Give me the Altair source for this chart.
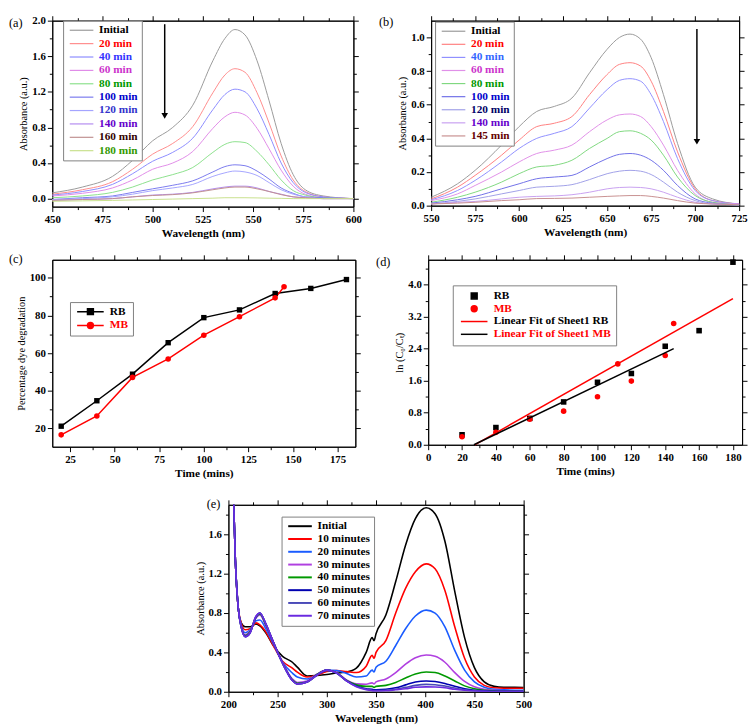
import altair as alt
import pandas as pd

FONT = "Liberation Serif"

# ---------------- panel (a) ----------------
A_WL = [450, 465, 480, 490, 500, 510, 520, 530, 536, 541, 546, 552, 558, 564, 570, 576, 585, 600]
A_NAMES = ["Initial", "20 min", "40 min", "60 min", "80 min", "100 min", "120 min", "140 min", "160 min", "180 min"]
A_INITIAL = [0.065, 0.13, 0.25, 0.43, 0.65, 0.80, 1.05, 1.55, 1.80, 1.90, 1.84, 1.55, 1.10, 0.62, 0.27, 0.10, 0.03, 0.0]
A_20 = [0.05, 0.10, 0.19, 0.33, 0.50, 0.62, 0.81, 1.19, 1.39, 1.46, 1.42, 1.19, 0.85, 0.48, 0.21, 0.08, 0.02, 0.0]
A_40 = [0.04, 0.08, 0.16, 0.28, 0.42, 0.52, 0.68, 1.00, 1.17, 1.23, 1.20, 1.01, 0.72, 0.40, 0.18, 0.07, 0.02, 0.0]
A_60 = [0.03, 0.06, 0.12, 0.21, 0.33, 0.40, 0.53, 0.79, 0.92, 0.97, 0.94, 0.79, 0.56, 0.32, 0.14, 0.05, 0.01, 0.0]
A_80 = [0.01, 0.03, 0.07, 0.13, 0.21, 0.27, 0.35, 0.52, 0.61, 0.64, 0.63, 0.53, 0.38, 0.21, 0.09, 0.04, 0.01, 0.0]
A_100 = [-0.01, 0.01, 0.03, 0.07, 0.11, 0.15, 0.20, 0.30, 0.36, 0.38, 0.37, 0.31, 0.22, 0.12, 0.06, 0.02, 0.01, 0.0]
A_120 = [-0.01, 0.0, 0.02, 0.05, 0.09, 0.12, 0.16, 0.25, 0.29, 0.31, 0.30, 0.26, 0.18, 0.10, 0.05, 0.02, 0.0, 0.0]
A_140 = [-0.02, -0.01, 0.0, 0.02, 0.04, 0.05, 0.07, 0.11, 0.13, 0.14, 0.14, 0.12, 0.08, 0.05, 0.02, 0.01, 0.0, 0.0]
A_160 = [-0.02, -0.01, 0.0, 0.02, 0.035, 0.045, 0.065, 0.10, 0.12, 0.13, 0.13, 0.11, 0.08, 0.045, 0.02, 0.01, 0.0, 0.0]
A_180 = [-0.03, -0.025, -0.02, -0.015, -0.01, -0.005, 0.0, 0.005, 0.01, 0.01, 0.01, 0.008, 0.005, 0.003, 0.0, 0.0, 0.0, 0.0]
A_SERIES = [A_INITIAL, A_20, A_40, A_60, A_80, A_100, A_120, A_140, A_160, A_180]
A_LINE_COLORS = ["#9a9a9a", "#ff8c8c", "#8c8cff", "#e08ce8", "#8ce08c", "#7a7aee", "#a4a4ff", "#b48cf0", "#c09090", "#c8e08c"]
A_TEXT_COLORS = ["#000000", "#ff0000", "#3333ff", "#cc33cc", "#009900", "#0000cc", "#3333cc", "#6600cc", "#330000", "#339900"]
A_ARROW_X = [506]
A_ARROW_TOP = [1.96]
A_ARROW_HEAD = [0.93]

# ---------------- panel (b) ----------------
B_WL = [550, 565, 575, 590, 600, 610, 620, 630, 640, 650, 657, 663, 669, 675, 682, 690, 700, 710, 725]
B_NAMES = ["Initial", "20 min", "40 min", "60 min", "80 min", "100 min", "120 min", "140 min", "145 min"]
B_INITIAL = [0.05, 0.13, 0.21, 0.36, 0.47, 0.56, 0.59, 0.64, 0.79, 0.93, 1.00, 1.02, 0.99, 0.88, 0.66, 0.37, 0.11, 0.04, 0.01]
B_20 = [0.04, 0.11, 0.18, 0.30, 0.39, 0.47, 0.49, 0.53, 0.66, 0.78, 0.84, 0.85, 0.83, 0.74, 0.56, 0.32, 0.10, 0.03, 0.01]
B_40 = [0.035, 0.09, 0.15, 0.26, 0.34, 0.40, 0.43, 0.47, 0.58, 0.69, 0.745, 0.755, 0.74, 0.66, 0.50, 0.28, 0.09, 0.03, 0.01]
B_60 = [0.03, 0.07, 0.12, 0.20, 0.26, 0.31, 0.33, 0.36, 0.44, 0.51, 0.54, 0.545, 0.53, 0.47, 0.36, 0.21, 0.07, 0.02, 0.01]
B_80 = [0.02, 0.05, 0.08, 0.14, 0.19, 0.23, 0.24, 0.27, 0.34, 0.40, 0.44, 0.445, 0.43, 0.39, 0.30, 0.17, 0.06, 0.02, 0.005]
B_100 = [0.015, 0.035, 0.055, 0.10, 0.13, 0.16, 0.17, 0.18, 0.23, 0.28, 0.305, 0.31, 0.30, 0.27, 0.21, 0.12, 0.04, 0.015, 0.005]
B_120 = [0.01, 0.025, 0.04, 0.07, 0.09, 0.11, 0.115, 0.125, 0.155, 0.19, 0.205, 0.21, 0.205, 0.185, 0.14, 0.08, 0.03, 0.01, 0.005]
B_140 = [0.01, 0.02, 0.025, 0.04, 0.05, 0.055, 0.058, 0.065, 0.08, 0.10, 0.108, 0.11, 0.108, 0.10, 0.08, 0.05, 0.02, 0.01, 0.005]
B_145 = [0.01, 0.015, 0.02, 0.03, 0.035, 0.042, 0.043, 0.045, 0.05, 0.055, 0.058, 0.06, 0.06, 0.055, 0.045, 0.03, 0.015, 0.01, 0.005]
B_SERIES = [B_INITIAL, B_20, B_40, B_60, B_80, B_100, B_120, B_140, B_145]
B_LINE_COLORS = ["#9a9a9a", "#ff8080", "#9090ff", "#e090e8", "#80d880", "#7070e8", "#a0a0e8", "#c8a0f0", "#c89090"]
B_TEXT_COLORS = ["#000000", "#ff0000", "#3366ff", "#cc33cc", "#009900", "#0000cc", "#000066", "#6600cc", "#660000"]
B_ARROW_X = [701]
B_ARROW_TOP = [1.05]
B_ARROW_HEAD = [0.38]

# ---------------- panel (c) ----------------
C_RB_T = [20, 40, 60, 80, 100, 120, 140, 160, 180]
C_RB_PCT = [21.2, 34.7, 48.8, 65.5, 78.8, 82.9, 91.6, 94.3, 99.0]
C_MB_T = [20, 40, 60, 80, 100, 120, 140, 145]
C_MB_PCT = [16.6, 26.6, 47.1, 56.9, 69.5, 79.3, 89.3, 95.2]

# ---------------- panel (d) ----------------
D_RB_T = [20, 40, 60, 80, 100, 120, 140, 160, 180]
D_RB_LN = [0.25, 0.43, 0.66, 1.07, 1.56, 1.78, 2.46, 2.85, 4.56]
D_MB_T = [20, 40, 60, 80, 100, 112, 120, 140, 145]
D_MB_LN = [0.20, 0.31, 0.64, 0.84, 1.20, 2.02, 1.59, 2.23, 3.03]
D_FIT_NAMES = ["Linear Fit of Sheet1 RB", "Linear Fit of Sheet1 MB"]
D_FIT_T = [[27.5, 180], [27, 145]]
D_FIT_LN = [[0.0, 3.65], [0.0, 2.40]]
D_NAMES = ["RB", "MB", "Linear Fit of Sheet1 RB", "Linear Fit of Sheet1 MB"]
D_COLORS = ["#000000", "#ff0000", "#ff0000", "#000000"]
D_TEXT_COLORS = ["#000000", "#ff0000", "#000000", "#ff0000"]

# ---------------- panel (e) ----------------
E_WL = [204, 207, 210, 213, 217, 222, 228, 232, 238, 245, 255, 265, 270, 280, 290, 300, 310, 320, 330, 340,
        346, 348, 350, 360, 370, 380, 390, 401, 410, 420, 430, 440, 450, 460, 470, 480, 500]
E_NAMES = ["Initial", "10 minutes", "20 minutes", "30 minutes", "40 minutes", "50 minutes", "60 minutes", "70 minutes"]
E_INITIAL = [2.4, 1.35, 0.85, 0.70, 0.66, 0.66, 0.69, 0.67, 0.60, 0.48, 0.36, 0.30, 0.25, 0.16, 0.165, 0.175, 0.19, 0.20, 0.24, 0.40,
             0.55, 0.52, 0.59, 0.78, 1.12, 1.49, 1.76, 1.87, 1.81, 1.53, 1.02, 0.55, 0.245, 0.10, 0.055, 0.045, 0.044]
E_10 = [2.4, 1.35, 0.85, 0.70, 0.63, 0.64, 0.70, 0.68, 0.61, 0.48, 0.31, 0.24, 0.20, 0.15, 0.17, 0.205, 0.215, 0.205, 0.195, 0.26,
        0.37, 0.34, 0.40, 0.52, 0.80, 1.05, 1.22, 1.30, 1.25, 1.03, 0.66, 0.34, 0.15, 0.065, 0.04, 0.035, 0.035]
E_20 = [2.4, 1.35, 0.85, 0.68, 0.60, 0.63, 0.72, 0.73, 0.64, 0.50, 0.30, 0.19, 0.15, 0.13, 0.17, 0.22, 0.215, 0.185, 0.15, 0.16,
        0.22, 0.20, 0.25, 0.31, 0.47, 0.64, 0.77, 0.83, 0.80, 0.66, 0.42, 0.22, 0.10, 0.045, 0.025, 0.02, 0.015]
E_30 = [2.4, 1.35, 0.85, 0.67, 0.58, 0.62, 0.75, 0.78, 0.67, 0.52, 0.30, 0.13, 0.095, 0.11, 0.18, 0.22, 0.195, 0.12, 0.08, 0.077,
        0.09, 0.08, 0.10, 0.13, 0.195, 0.28, 0.345, 0.373, 0.36, 0.30, 0.195, 0.105, 0.05, 0.025, 0.015, 0.01, 0.01]
E_40 = [2.4, 1.35, 0.85, 0.66, 0.57, 0.61, 0.76, 0.79, 0.68, 0.52, 0.29, 0.12, 0.085, 0.10, 0.175, 0.22, 0.19, 0.115, 0.07, 0.055,
        0.055, 0.045, 0.055, 0.065, 0.095, 0.14, 0.18, 0.20, 0.195, 0.16, 0.11, 0.06, 0.03, 0.015, 0.01, 0.005, 0.005]
E_50 = [2.4, 1.35, 0.85, 0.66, 0.56, 0.60, 0.76, 0.80, 0.69, 0.52, 0.29, 0.115, 0.08, 0.10, 0.17, 0.22, 0.19, 0.11, 0.06, 0.03,
        0.025, 0.02, 0.02, 0.025, 0.04, 0.07, 0.10, 0.11, 0.105, 0.085, 0.055, 0.03, 0.015, 0.01, 0.005, 0.005, 0.005]
E_60 = [2.4, 1.35, 0.85, 0.66, 0.56, 0.60, 0.76, 0.80, 0.69, 0.52, 0.29, 0.115, 0.08, 0.10, 0.17, 0.22, 0.19, 0.11, 0.055, 0.025,
        0.015, 0.012, 0.012, 0.015, 0.025, 0.045, 0.065, 0.075, 0.072, 0.058, 0.038, 0.02, 0.01, 0.005, 0.003, 0.003, 0.003]
E_70 = [2.4, 1.35, 0.85, 0.66, 0.56, 0.60, 0.77, 0.80, 0.69, 0.52, 0.29, 0.115, 0.08, 0.10, 0.17, 0.22, 0.19, 0.11, 0.05, 0.02,
        0.01, 0.008, 0.008, 0.01, 0.02, 0.03, 0.045, 0.05, 0.048, 0.04, 0.025, 0.015, 0.008, 0.004, 0.002, 0.002, 0.002]
E_SERIES = [E_INITIAL, E_10, E_20, E_30, E_40, E_50, E_60, E_70]
E_LINE_COLORS = ["#000000", "#ff0000", "#1a5cff", "#b040e0", "#009900", "#0000b0", "#4a4ab8", "#6a2ae0"]


# ---------------- helpers ----------------
def long_df(xs, names, series):
    rows = []
    for name, ys in zip(names, series):
        assert len(ys) == len(xs), name
        for x, y in zip(xs, ys):
            rows.append({"x": x, "y": y, "s": name})
    return pd.DataFrame(rows)


def major_test(step):
    return f"abs(datum.value / {step} - round(datum.value / {step})) < 0.001"


def make_axis(orient, values, step, fmt, title=None, bold_title=True, show=True):
    test = major_test(step)
    kw = dict(orient=orient, values=values, grid=False, domainColor="black", domainWidth=1,
              tickColor="black", tickWidth=1,
              tickSize={"condition": {"test": test, "value": 5}, "value": 3})
    if show:
        kw.update(labelExpr=f"{test} ? format(datum.value, '{fmt}') : ''",
                  labelFont=FONT, labelFontSize=11, labelFontWeight="bold", labelColor="black",
                  labelPadding=2, labelOverlap=False, labelFlush=False,
                  title=title, titleFont=FONT, titleFontSize=11.5 if bold_title else 10.5,
                  titleFontWeight="bold" if bold_title else "normal", titleColor="black", titlePadding=3)
    else:
        kw.update(labels=False, title=None)
    return alt.Axis(**kw)


def color_expr(names, colors):
    n = "[" + ",".join(f"'{v}'" for v in names) + "]"
    c = "[" + ",".join(f"'{v}'" for v in colors) + "]"
    return f"{c}[indexof({n}, datum.label)]"


def panel(content, frame_df, xdom, ydom, xvals, xstep, xfmt, xtitle, yvals, ystep, yfmt, ytitle, ybold,
          w, h, label, lx, ly):
    xs = alt.Scale(domain=xdom, nice=False, zero=False)
    ys = alt.Scale(domain=ydom, nice=False, zero=False)
    X = alt.X("x:Q", scale=xs, axis=make_axis("bottom", xvals, xstep, xfmt, xtitle, True))
    Y = alt.Y("y:Q", scale=ys, axis=make_axis("left", yvals, ystep, yfmt, ytitle, ybold))
    layers = [f(X, Y) for f in content]
    lab = alt.Chart(pd.DataFrame({"t": [label]})).mark_text(
        font=FONT, fontSize=12.5, align="left", baseline="top", color="black"
    ).encode(text="t:N", x=alt.value(lx), y=alt.value(ly))
    layers.append(lab)
    inner = alt.layer(*layers)
    frame = alt.Chart(frame_df).mark_point(opacity=0, clip=True, size=1).encode(
        x=alt.X("x:Q", scale=xs, axis=make_axis("top", xvals, xstep, xfmt, show=False)),
        y=alt.Y("y:Q", scale=ys, axis=make_axis("right", yvals, ystep, yfmt, show=False)),
    )
    return alt.layer(inner, frame).resolve_axis(x="independent", y="independent").properties(width=w, height=h)


LINE_SYM = "M-4,0H4"


def line_legend(names, text_colors, lx, ly, row_pad, stroke_w=1.2):
    return alt.Legend(title=None, orient="none", legendX=lx, legendY=ly, direction="vertical",
                      symbolType=LINE_SYM, symbolSize=36, symbolStrokeWidth=stroke_w, symbolOffset=9,
                      labelFont=FONT, labelFontSize=11.5, labelFontWeight="bold",
                      labelColor={"expr": color_expr(names, text_colors)}, labelOffset=12, labelLimit=300,
                      strokeColor="#808080", fillColor="white", padding=4, rowPadding=row_pad)


# ---------------- panel (a) chart ----------------
a_df = long_df(A_WL, A_NAMES, A_SERIES)
a_arrow = pd.DataFrame({"x": A_ARROW_X, "y": A_ARROW_TOP, "y2": A_ARROW_HEAD})
a_head = pd.DataFrame({"x": A_ARROW_X, "y": A_ARROW_HEAD})
a_legend = line_legend(A_NAMES, A_TEXT_COLORS, 11, 0, 0.6)
a_chart = panel(
    [
        lambda X, Y: alt.Chart(a_df).mark_line(strokeWidth=1, interpolate="monotone").encode(
            x=X, y=Y, color=alt.Color("s:N", scale=alt.Scale(domain=A_NAMES, range=A_LINE_COLORS), legend=a_legend)),
        lambda X, Y: alt.Chart(a_arrow).mark_rule(color="black", strokeWidth=1.5).encode(x=X, y=Y, y2="y2:Q"),
        lambda X, Y: alt.Chart(a_head).mark_point(shape="triangle-down", filled=True, color="black", size=45, opacity=1).encode(x=X, y=Y),
    ],
    a_df, [450, 600], [-0.09, 2.0],
    [450 + 12.5 * i for i in range(13)], 25, "d", "Wavelength (nm)",
    [round(0.2 * i, 1) for i in range(11)], 0.4, ".1f", "Absorbance (a.u.)", False,
    306, 189, "(a)", -44, -4)

# ---------------- panel (b) chart ----------------
b_df = long_df(B_WL, B_NAMES, B_SERIES)
b_arrow = pd.DataFrame({"x": B_ARROW_X, "y": B_ARROW_TOP, "y2": B_ARROW_HEAD})
b_head = pd.DataFrame({"x": B_ARROW_X, "y": B_ARROW_HEAD})
b_legend = line_legend(B_NAMES, B_TEXT_COLORS, 4, 1, 0.3)
b_chart = panel(
    [
        lambda X, Y: alt.Chart(b_df).mark_line(strokeWidth=1, interpolate="monotone").encode(
            x=X, y=Y, color=alt.Color("s:N", scale=alt.Scale(domain=B_NAMES, range=B_LINE_COLORS), legend=b_legend)),
        lambda X, Y: alt.Chart(b_arrow).mark_rule(color="black", strokeWidth=1.5).encode(x=X, y=Y, y2="y2:Q"),
        lambda X, Y: alt.Chart(b_head).mark_point(shape="triangle-down", filled=True, color="black", size=45, opacity=1).encode(x=X, y=Y),
    ],
    b_df, [550, 725], [0, 1.1],
    [550 + 12.5 * i for i in range(15)], 25, "d", "Wavelength (nm)",
    [round(0.1 * i, 1) for i in range(11)], 0.2, ".1f", "Absorbance (a.u.)", False,
    313, 188, "(b)", -53, -5)

# ---------------- panel (c) chart ----------------
c_df = pd.concat([
    pd.DataFrame({"x": C_RB_T, "y": C_RB_PCT, "s": "RB"}),
    pd.DataFrame({"x": C_MB_T, "y": C_MB_PCT, "s": "MB"}),
])
c_rb = pd.DataFrame({"x": C_RB_T, "y": C_RB_PCT, "s": "RB"})
c_mb = pd.DataFrame({"x": C_MB_T, "y": C_MB_PCT, "s": "MB"})
C_NAMES = ["RB", "MB"]
C_COLORS = ["#000000", "#ff0000"]
c_sym = ("datum.label == 'RB' ? 'M-4.5,0H4.5M-1,-1H1V1H-1Z' : "
         "'M-4.5,0H4.5M1,0A1,1,0,1,1,-1,0A1,1,0,1,1,1,0Z'")
c_legend = alt.Legend(title=None, orient="none", legendX=18, legendY=43, direction="vertical",
                      symbolType={"expr": c_sym}, symbolSize=36, symbolStrokeWidth=1.5, symbolOffset=11,
                      symbolFillColor={"expr": color_expr(C_NAMES, C_COLORS)},
                      symbolStrokeColor={"expr": color_expr(C_NAMES, C_COLORS)},
                      labelFont=FONT, labelFontSize=11.5, labelFontWeight="bold",
                      labelColor={"expr": color_expr(C_NAMES, C_COLORS)}, labelOffset=14,
                      strokeColor="#808080", fillColor="white", padding=4, rowPadding=1)
c_color = alt.Color("s:N", scale=alt.Scale(domain=C_NAMES, range=C_COLORS), legend=c_legend)
c_chart = panel(
    [
        lambda X, Y: alt.Chart(c_df).mark_line(strokeWidth=1.5).encode(x=X, y=Y, color=c_color),
        lambda X, Y: alt.Chart(c_rb).mark_point(filled=True, size=30, opacity=1, shape="square").encode(
            x=X, y=Y, color=c_color),
        lambda X, Y: alt.Chart(c_mb).mark_point(filled=True, size=32, opacity=1, shape="circle").encode(
            x=X, y=Y, color=c_color),
    ],
    c_df, [15, 185], [10.3, 109.5],
    [25 + 12.5 * i for i in range(13)], 25, "d", "Time (mins)",
    [20 + 10 * i for i in range(9)], 20, "d", "Percentage dye degradation", False,
    308, 190, "(c)", -44, -7)

# ---------------- panel (d) chart ----------------
d_pts = pd.concat([
    pd.DataFrame({"x": D_RB_T, "y": D_RB_LN, "s": "RB"}),
    pd.DataFrame({"x": D_MB_T, "y": D_MB_LN, "s": "MB"}),
])
d_fit = pd.concat([pd.DataFrame({"x": D_FIT_T[i], "y": D_FIT_LN[i], "s": D_FIT_NAMES[i]}) for i in range(2)])
d_sym = ("datum.label == 'RB' ? 'M-1,-1H1V1H-1Z' : datum.label == 'MB' ? "
         "'M1,0A1,1,0,1,1,-1,0A1,1,0,1,1,1,0Z' : 'M-4.5,0H4.5'")
d_legend = alt.Legend(title=None, orient="none", legendX=25, legendY=26, direction="vertical",
                      symbolType={"expr": d_sym}, symbolSize=36, symbolStrokeWidth=1.5, symbolOffset=11,
                      symbolFillColor={"expr": color_expr(D_NAMES, D_COLORS)},
                      symbolStrokeColor={"expr": color_expr(D_NAMES, D_COLORS)},
                      labelFont=FONT, labelFontSize=11.5, labelFontWeight="bold",
                      labelColor={"expr": color_expr(D_NAMES, D_TEXT_COLORS)}, labelOffset=14, labelLimit=300,
                      strokeColor="#808080", fillColor="white", padding=5, rowPadding=0)
d_color = alt.Color("s:N", scale=alt.Scale(domain=D_NAMES, range=D_COLORS), legend=d_legend)
d_chart = panel(
    [
        lambda X, Y: alt.Chart(d_pts).mark_point(filled=True, size=32, opacity=1).encode(
            x=X, y=Y, color=d_color,
            shape=alt.Shape("s:N", scale=alt.Scale(domain=["RB", "MB"], range=["square", "circle"]), legend=None)),
        lambda X, Y: alt.Chart(d_fit).mark_line(strokeWidth=1.5).encode(x=X, y=Y, color=d_color),
    ],
    d_pts, [0, 185.4], [0, 4.62],
    [10 * i for i in range(19)], 20, "d", "Time (mins)",
    [round(0.4 * i, 1) for i in range(12)], 0.8, ".1f", "ln (C\u2080/C\u209c)", False,
    319, 188, "(d)", -53, -4)

# ---------------- panel (e) chart ----------------
e_df = long_df(E_WL, E_NAMES, E_SERIES)
e_legend = alt.Legend(title=None, orient="none", legendX=54, legendY=12, direction="vertical",
                      symbolType=LINE_SYM, symbolSize=36, symbolStrokeWidth=2, symbolOffset=9,
                      labelFont=FONT, labelFontSize=11.5, labelFontWeight="bold", labelColor="black",
                      labelOffset=12, strokeColor="#808080", fillColor="white", padding=4, rowPadding=0)
e_chart = panel(
    [
        lambda X, Y: alt.Chart(e_df).mark_line(strokeWidth=1.6, interpolate="monotone", clip=True).encode(
            x=X, y=Y, color=alt.Color("s:N", scale=alt.Scale(domain=E_NAMES, range=E_LINE_COLORS), legend=e_legend)),
    ],
    e_df, [200, 500], [0, 1.9],
    [200 + 25 * i for i in range(13)], 50, "d", "Wavelength (nm)",
    [round(0.2 * i, 1) for i in range(10)], 0.4, ".1f", "Absorbance (a.u.)", False,
    300, 190, "(e)", -22, -7)

spacer = alt.Chart(pd.DataFrame({"x": [0]}), view=alt.ViewBackground(stroke="transparent")).mark_point(
    opacity=0).encode(x=alt.X("x:Q", axis=None)).properties(width=123, height=10)

RES = dict(x="independent", y="independent", color="independent", shape="independent")
row1 = alt.hconcat(a_chart, b_chart, spacing=16).resolve_scale(**RES)
row2 = alt.hconcat(c_chart, d_chart, spacing=14).resolve_scale(**RES)
row3 = alt.hconcat(spacer, e_chart, spacing=20).resolve_scale(**RES)

top_rows = alt.vconcat(row1, row2, spacing=13).resolve_scale(**RES)
chart = alt.vconcat(top_rows, row3, spacing=18).resolve_scale(**RES).properties(
    padding=0).configure_view(stroke="black", strokeWidth=1)

chart.save("out.html", embed_options={"renderer": "svg", "actions": False})
